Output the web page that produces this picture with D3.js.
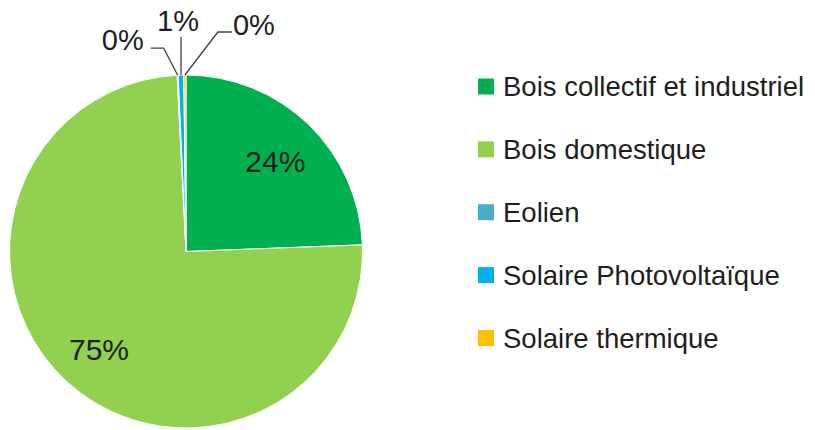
<!DOCTYPE html>
<html>
<head>
<meta charset="utf-8">
<script src="https://d3js.org/d3.v7.min.js"></script>
<style>
	body { margin: 0; background: #fff; }
	text { font-family: "Liberation Sans", Arial, sans-serif; fill: #1e1e1e; }
</style>
</head>
<body>
<script>

	var categories = ["Bois collectif et industriel", "Bois domestique", "Eolien", "Solaire Photovoltaïque", "Solaire thermique"];
	var values = [24.4, 74.8, 0.1, 0.5, 0.2];
	var labels = ["24%", "75%", "0%", "1%", "0%"];
	var colors = ["#00B050", "#92D050", "#4BACC6", "#00B0F0", "#FFC000"];

	var w = 815, h = 430;
	var cx = 186, cy = 251.5, r = 176.5;

	var svg = d3.select("body").append("svg")
		.attr("width", w)
		.attr("height", h);

	var data = categories.map(function(c, i) {
		return { name: c, value: values[i], label: labels[i], color: colors[i] };
	});

	var pie = d3.pie().sort(null).value(function(d) { return d.value; });
	var arcs = pie(data);

	var arc = d3.arc().innerRadius(0).outerRadius(r);
	var labelArc = d3.arc().innerRadius(r * 0.73).outerRadius(r * 0.73);

	var g = svg.append("g").attr("transform", "translate(" + cx + "," + cy + ")");

	g.selectAll("path")
		.data(arcs)
		.enter()
		.append("path")
		.attr("d", arc)
		.attr("fill", function(d) { return d.data.color; })
		.attr("stroke", "#fff")
		.attr("stroke-width", 1);

	// big slices: label inside
	var inside = arcs.filter(function(d) { return d.value >= 5; });
	g.selectAll("text.in")
		.data(inside)
		.enter()
		.append("text")
		.attr("class", "in")
		.attr("x", function(d) { return labelArc.centroid(d)[0]; })
		.attr("y", function(d) { return labelArc.centroid(d)[1] + 3; })
		.attr("dy", "0.35em")
		.attr("text-anchor", "middle")
		.attr("font-size", "30px")
		.text(function(d) { return d.data.label; });

	// small slices: label outside with leader line
	// elbow offset from the slice edge, then a horizontal run
	var leader = {
		"Eolien": { ex: -14, ey: -27, run: -13 },
		"Solaire Photovoltaïque": { ex: 0, ey: -38, run: 0 },
		"Solaire thermique": { ex: 33, ey: -43, run: 14 }
	};

	var outside = arcs.filter(function(d) { return d.value < 5; });
	outside.forEach(function(d) {
		var a = (d.startAngle + d.endAngle) / 2;
		var p0 = [Math.sin(a) * r, -Math.cos(a) * r];
		var L = leader[d.data.name];
		var p1 = [p0[0] + L.ex, p0[1] + L.ey];
		var p2 = [p1[0] + L.run, p1[1]];
		g.append("polyline")
			.attr("points", [p0, p1, p2].map(function(p) { return p.join(","); }).join(" "))
			.attr("fill", "none")
			.attr("stroke", "#404040")
			.attr("stroke-width", 1.3);
		var t = g.append("text")
			.attr("font-size", "29px")
			.text(d.data.label);
		if (L.run < 0) {
			t.attr("x", p2[0] - 7).attr("y", p2[1] + 2).attr("text-anchor", "end");
		} else if (L.run > 0) {
			t.attr("x", p2[0] + 1).attr("y", p2[1] + 3).attr("text-anchor", "start");
		} else {
			t.attr("x", p2[0] - 3).attr("y", p2[1] - 6).attr("text-anchor", "middle");
		}
	});

	// legend
	var ly = d3.scalePoint()
		.domain(categories)
		.range([86.5, 338]);

	var legend = svg.append("g");
	var items = legend.selectAll("g")
		.data(data)
		.enter()
		.append("g")
		.attr("transform", function(d) { return "translate(478," + ly(d.name) + ")"; });

	items.append("rect")
		.attr("x", 0)
		.attr("y", -8)
		.attr("width", 16)
		.attr("height", 16)
		.attr("fill", function(d) { return d.color; });

	items.append("text")
		.attr("x", 25)
		.attr("dy", "0.36em")
		.attr("font-size", "27.5px")
		.text(function(d) { return d.name; });

</script>
</body>
</html>
